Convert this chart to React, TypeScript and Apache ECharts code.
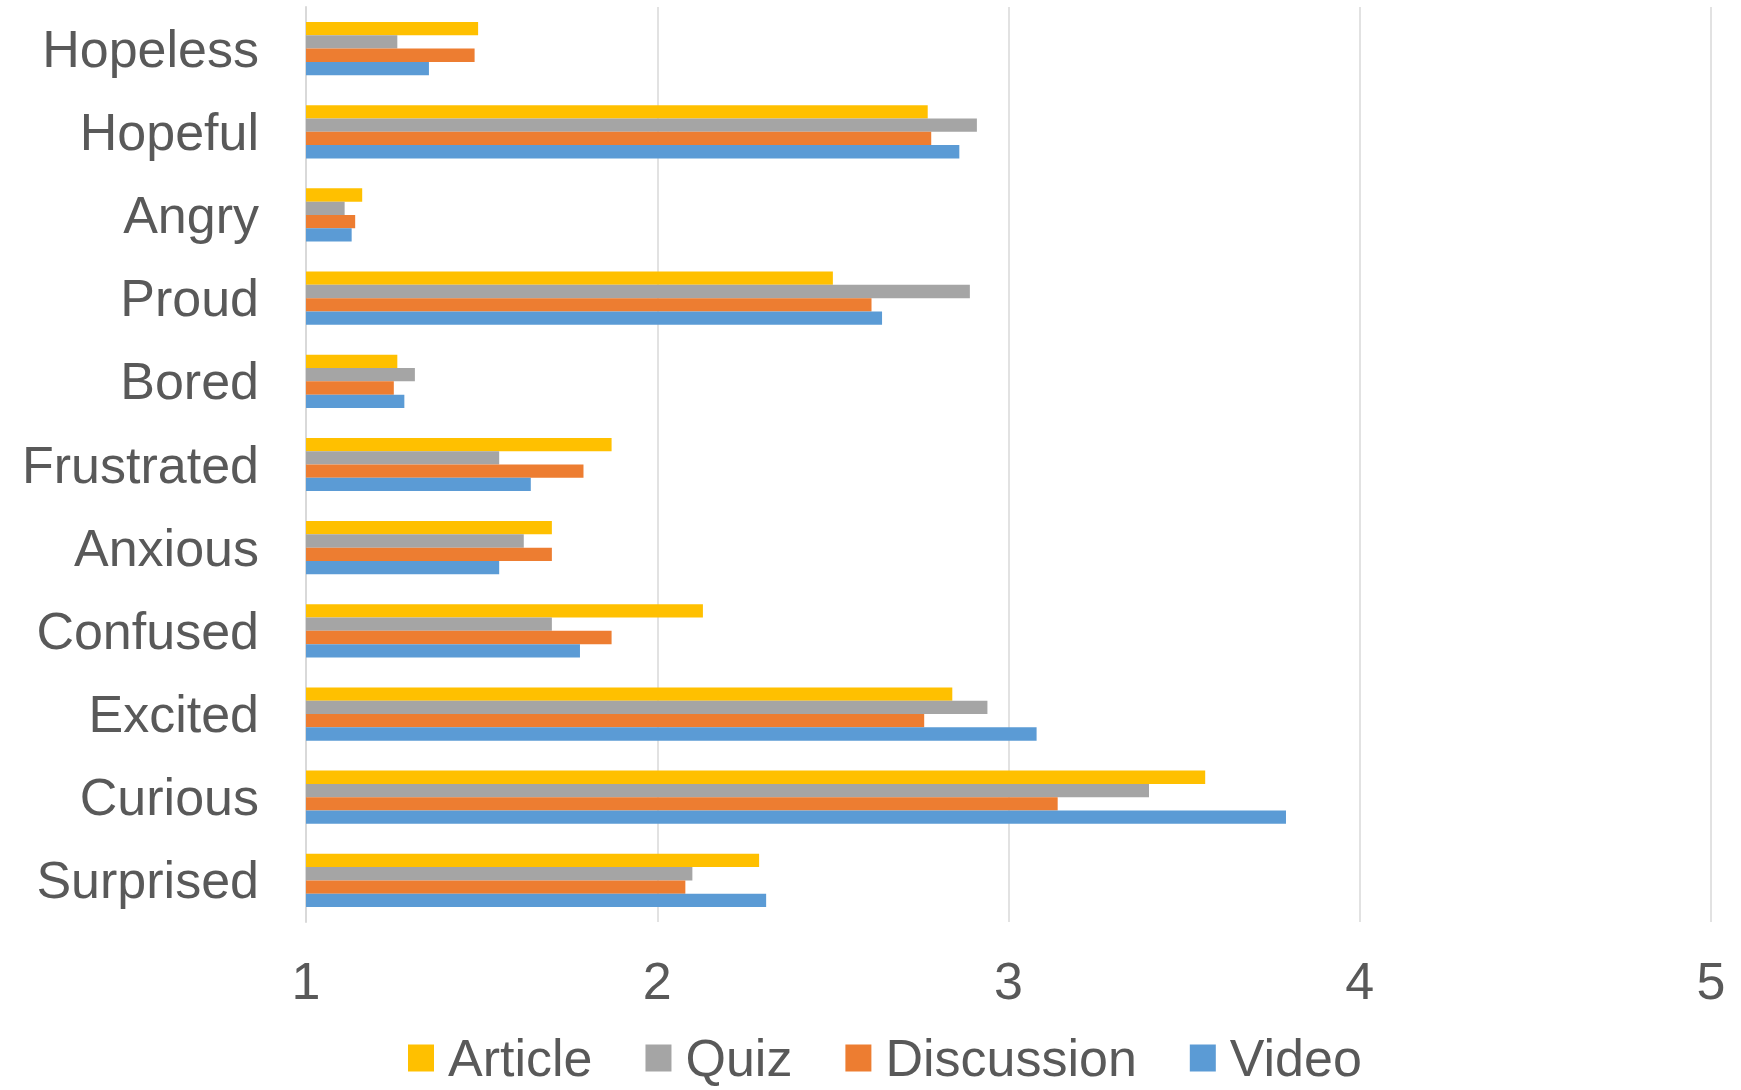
import React, { useEffect, useRef } from "react";
import * as echarts from "echarts";

const categories = ["Hopeless", "Hopeful", "Angry", "Proud", "Bored", "Frustrated", "Anxious", "Confused", "Excited", "Curious", "Surprised"];
const seriesNames = ["Article", "Quiz", "Discussion", "Video"];
const article = [1.49, 2.77, 1.16, 2.50, 1.26, 1.87, 1.70, 2.13, 2.84, 3.56, 2.29];
const quiz = [1.26, 2.91, 1.11, 2.89, 1.31, 1.55, 1.62, 1.70, 2.94, 3.40, 2.10];
const discussion = [1.48, 2.78, 1.14, 2.61, 1.25, 1.79, 1.70, 1.87, 2.76, 3.14, 2.08];
const video = [1.35, 2.86, 1.13, 2.64, 1.28, 1.64, 1.55, 1.78, 3.08, 3.79, 2.31];
const colors = ["#FFC000", "#A5A5A5", "#ED7D31", "#5B9BD5"];
const xTicks = { min: 1, max: 5, interval: 1 };

const FONT = "'Liberation Sans', Arial, sans-serif";
const TEXT = "#595959";

export default function App() {
  const ref = useRef<HTMLDivElement>(null);
  useEffect(() => {
    document.body.style.margin = "0";
    const chart = echarts.init(ref.current!, null, { renderer: "svg" });
    const values = [article, quiz, discussion, video];
    chart.setOption({
      animation: false,
      backgroundColor: "#ffffff",
      textStyle: { fontFamily: FONT },
      grid: { left: 306, right: 30, top: 7, bottom: 168, containLabel: false },
      legend: {
        data: seriesNames,
        left: 408,
        top: 1032,
        padding: 0,
        itemWidth: 26,
        itemHeight: 27,
        itemGap: 53,
        icon: "rect",
        textStyle: { fontSize: 52, lineHeight: 42, color: TEXT, fontFamily: FONT, padding: [0, 0, 0, 9] },
      },
      xAxis: {
        type: "value",
        min: xTicks.min,
        max: xTicks.max,
        interval: xTicks.interval,
        axisLine: { show: false },
        axisTick: { show: false },
        splitLine: { show: true, lineStyle: { color: "#D9D9D9", width: 1.5 } },
        axisLabel: { fontSize: 52, color: TEXT, fontFamily: FONT, margin: 33 },
      },
      yAxis: {
        type: "category",
        data: categories,
        inverse: true,
        axisLine: { show: true, lineStyle: { color: "#D9D9D9", width: 2 } },
        axisTick: { show: false },
        axisLabel: { fontSize: 52, color: TEXT, fontFamily: FONT, margin: 47 },
      },
      series: seriesNames.map((name, i) => ({
        name,
        type: "bar",
        data: values[i],
        itemStyle: { color: colors[i] },
        barGap: "0%",
        barCategoryGap: "36%",
      })),
    });
    return () => chart.dispose();
  }, []);
  return <div ref={ref} style={{ width: 1741, height: 1090 }} />;
}
